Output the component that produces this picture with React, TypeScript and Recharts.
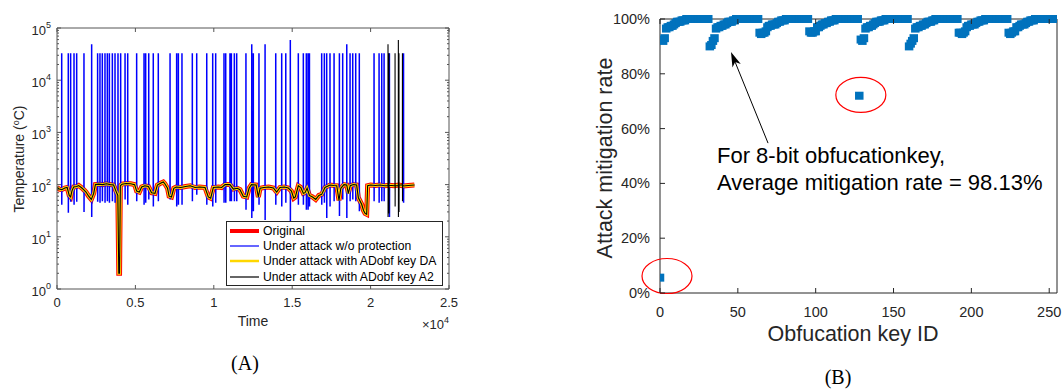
import React from "react";
import {
  LineChart, Line, XAxis, YAxis, Legend,
  ScatterChart, Scatter, ReferenceDot, ReferenceLine,
} from "recharts";

// ---------- panel A: temperature trace ----------
// original trace (time, °C)
const baseTime = [
  0, 150, 300, 500, 650, 780, 870, 950, 1060, 1250, 1380, 1550, 1700, 1850, 2020, 2190, 2340, 2450,
  2660, 2900, 3150, 3400, 3610, 3760, 3880, 3940, 3990, 4040, 4150, 4400, 4700, 4950, 5080, 5250,
  5400, 5600, 5830, 6030, 6250, 6400, 6600, 6780, 6880, 7050, 7150, 7300, 7450, 7600, 7900, 8200,
  8500, 8800, 9100, 9440, 9650, 9800, 9970, 10300, 10500, 10720, 11030, 11250, 11500, 11670, 11880,
  12100, 12250, 12400, 12700, 12840, 12950, 13200, 13500, 13800, 14010, 14220, 14500, 14750, 14950,
  15100, 15200, 15390, 15550, 15710, 15820, 15950, 16100, 16300, 16500, 16700, 16880, 17090, 17410,
  17650, 17840, 17985, 18100, 18300, 18480, 18580, 18700, 18900, 19110, 19220, 19430, 19550, 19650,
  19750, 19810, 20000, 20300, 20600, 20900, 21200, 21500, 21800, 22100, 22400, 22790,
];
const baseTemp = [
  88, 82, 80, 86, 88, 62, 58, 75, 90, 92, 96, 88, 80, 72, 60, 52, 68, 100,
  102, 100, 104, 100, 98, 75, 62, 2, 2, 95, 102, 105, 104, 100, 75, 72,
  90, 95, 92, 70, 68, 98, 106, 112, 104, 85, 60, 58, 85, 90, 88, 92,
  95, 88, 90, 88, 58, 55, 88, 90, 88, 100, 100, 82, 85, 80, 60,
  58, 85, 100, 98, 58, 85, 88, 90, 86, 72, 88, 90, 86, 75,
  55, 58, 95, 88, 68, 70, 85, 62, 58, 52, 62, 65, 88, 98,
  96, 95, 50, 85, 100, 98, 68, 95, 100, 98, 56, 42, 32, 28,
  27, 95, 98, 96, 98, 95, 97, 95, 98, 94, 96, 98,
];
// spikes of the unprotected run: [time, peak, trough]
const blueSpikes: [number, number, number][] = [
  [300, 33000, 41], [720, 33000, 29], [870, 33000, 47], [1085, 33000, 41], [1255, 33000, 47], [1720, 33000, 30],
  [2210, 49000, 24], [2590, 33000, 47], [2740, 33000, 45], [2890, 33000, 48], [3060, 33000, 45], [3210, 33000, 48],
  [3340, 33000, 45], [3530, 33000, 48], [3700, 33000, 45], [3890, 33000, 23], [4060, 33000, 45], [4340, 33000, 52],
  [4510, 33000, 41], [5080, 33000, 48], [5550, 33000, 41], [5655, 33000, 45], [5850, 33000, 52], [6140, 33000, 38],
  [6460, 33000, 48], [7210, 33000, 52], [7630, 33000, 38], [7740, 33000, 41], [7970, 33000, 41],
  [8630, 33000, 48], [8910, 33000, 64], [9550, 33000, 41], [9930, 33000, 38], [10120, 33000, 45], [10650, 33000, 45],
  [10760, 33000, 45], [11030, 33000, 48], [11120, 33000, 48], [11310, 33000, 48], [11460, 33000, 48], [12050, 33000, 33],
  [12420, 49000, 23], [12520, 33000, 31], [12880, 33000, 41], [13270, 49000, 21], [13950, 33000, 41], [14330, 33000, 38],
  [14590, 33000, 45], [14880, 59000, 20], [15390, 33000, 41], [15710, 33000, 41], [15900, 33000, 33], [16010, 33000, 33],
  [16100, 33000, 38], [16880, 33000, 41], [17050, 33000, 45], [17200, 33000, 23], [17410, 33000, 38], [17670, 33000, 48],
  [18010, 33000, 25], [18220, 33000, 52], [18480, 49000, 23], [18690, 33000, 48], [18860, 33000, 52], [19050, 33000, 48],
  [19280, 33000, 31], [20220, 33000, 48], [20540, 33000, 45], [20710, 33000, 48], [20860, 33000, 48], [21200, 33000, 24],
  [22100, 33000, 45],
];
// spikes that get through with key A2
const blackSpikes: [number, number, number][] = [
  [21110, 49000, 24], [21170, 33000, 28], [21560, 33000, 38], [21770, 59000, 24], [21810, 33000, 30], [22030, 33000, 48],
];
const legendNamesA = [
  "Original",
  "Under attack w/o protection",
  "Under attack with ADobf key DA",
  "Under attack with ADobf key A2",
];
const timeTicks = [0, 5000, 10000, 15000, 20000, 25000];
const tempTicks = [1, 10, 100, 1000, 10000, 100000];

// ---------- panel B: mitigation rate per key ----------
const rateBlock0 = [5.6, 92.5, 92, 93, 96.5, 97, 97, 97.5, 97.5, 98, 98.5, 99, 99, 99, 99.5, 99.5, 99.5, 100, 100, 100, 100, 100, 100, 100, 100, 100, 100, 100, 100, 100, 100, 100];
const rateBlock1 = [90, 90.5, 92, 93, 96.5, 97, 97, 97.5, 97.5, 98, 98, 98.5, 99, 99, 99, 99.5, 99.5, 100, 100, 100, 100, 100, 100, 100, 100, 100, 100, 100, 100, 100, 100, 100];
const rateBlock2 = [95, 94.5, 95, 95, 95.5, 97, 97.5, 97.5, 98, 98, 98, 98.5, 99, 99, 99.5, 99.5, 99.5, 100, 100, 100, 100, 100, 100, 100, 100, 100, 100, 100, 100, 100, 100, 100];
const rateBlock3 = [95.5, 95, 95, 95.5, 95.5, 97, 97, 97.5, 98, 98, 98.5, 98.5, 99, 99, 99.5, 99.5, 99.5, 100, 100, 100, 100, 100, 100, 100, 100, 100, 100, 100, 100, 100, 100, 100];
const rateBlock4 = [72, 92.5, 92, 93, 96.5, 97, 97, 97.5, 97.5, 98, 98.5, 99, 99, 99, 99.5, 99.5, 99.5, 100, 100, 100, 100, 100, 100, 100, 100, 100, 100, 100, 100, 100, 100, 100];
const rateBlock5 = [90, 91, 92, 93, 96.5, 97, 97, 97.5, 97.5, 98, 98, 98.5, 99, 99, 99, 99.5, 99.5, 100, 100, 100, 100, 100, 100, 100, 100, 100, 100, 100, 100, 100, 100, 100];
const rateBlock6 = [95, 95, 94.5, 95, 95.5, 97, 97.5, 97.5, 98, 98, 98, 98.5, 99, 99, 99.5, 99.5, 99.5, 100, 100, 100, 100, 100, 100, 100, 100, 100, 100, 100, 100, 100, 100, 100];
const rateBlock7 = [95, 94.5, 95, 95.5, 95.5, 97, 97, 97.5, 98, 98, 98, 98.5, 99, 99, 99.5, 99.5, 99.5, 100, 100, 100, 100, 100, 100, 100, 100, 100, 100, 100, 100, 100, 100, 100];
const keyTicks = [0, 50, 100, 150, 200, 250];
const rateTicks = [0, 20, 40, 60, 80, 100];
const outliers = [{ key: 4.5, rate: 6.2 }, { key: 129, rate: 72.3 }];
const arrowTail = { key: 69.4, rate: 54.7 };
const arrowTip = { key: 45.6, rate: 88 };
const noteAnchor = { key: 36.6, rate: 47.4 };
const noteLines = ["For 8-bit obfucationkey,", "Average mitigation rate = 98.13%"];

// ---------- build series ----------
function withSpikes(spikes: [number, number, number][]) {
  const pts = baseTime.map((t, i) => ({ t, v: baseTemp[i] }));
  spikes.forEach(([t, hi, lo]) => {
    let i = 0;
    while (i < baseTime.length - 1 && baseTime[i + 1] <= t) i++;
    const b = baseTemp[i];
    pts.push({ t: t - 4, v: b }, { t, v: hi }, { t: t + 4, v: lo }, { t: t + 8, v: b });
  });
  return pts.sort((a, b) => a.t - b.t);
}
const origData = baseTime.map((t, i) => ({ t, v: baseTemp[i] }));
const blueData = withSpikes(blueSpikes);
const blackData = withSpikes(blackSpikes);

const minorTemp = tempTicks.slice(0, -1).flatMap((d) => [2, 3, 4, 5, 6, 7, 8, 9].map((m) => m * d));
const allTempTicks = [...tempTicks, ...minorTemp];

const rateB = [...rateBlock0, ...rateBlock1, ...rateBlock2, ...rateBlock3, ...rateBlock4, ...rateBlock5, ...rateBlock6, ...rateBlock7];
const scatterData = rateB.map((rate, key) => ({ key, rate }));

const AX_A = "#555555";
const AX_B = "#262626";
const TXT = "#262626";
const FONT = "'Liberation Sans', Arial, sans-serif";
const legendWidths = [4, 1.2, 2.5, 1.2];

// ---------- ticks (all pointing inward, like MATLAB) ----------
const leftTickA = (p: any) => {
  const v = p.payload.value;
  const major = tempTicks.includes(v);
  return (
    <g>
      <line x1={p.x} x2={p.x + (major ? 4 : 2)} y1={p.y} y2={p.y} stroke={AX_A} />
      {major && (
        <text x={p.x - 6} y={p.y + 7} textAnchor="end" fontSize={13} fill={TXT}>
          10<tspan dy={-7} fontSize={9}>{Math.round(Math.log10(v))}</tspan>
        </text>
      )}
    </g>
  );
};
const rightTickA = (p: any) => {
  const major = tempTicks.includes(p.payload.value);
  return <line x1={p.x} x2={p.x - (major ? 4 : 2)} y1={p.y} y2={p.y} stroke={AX_A} />;
};
const bottomTickA = (p: any) => (
  <g>
    <line x1={p.x} x2={p.x} y1={p.y} y2={p.y - 4} stroke={AX_A} />
    <text x={p.x} y={p.y + 18} textAnchor="middle" fontSize={13} fill={TXT}>{p.payload.value / 10000}</text>
  </g>
);
const topTickA = (p: any) => <line x1={p.x} x2={p.x} y1={p.y} y2={p.y + 4} stroke={AX_A} />;

const leftTickB = (p: any) => (
  <g>
    <line x1={p.x} x2={p.x + 5} y1={p.y} y2={p.y} stroke={AX_B} />
    <text x={p.x - 10} y={p.y + 5} textAnchor="end" fontSize={14.5} fill={TXT}>{`${p.payload.value}%`}</text>
  </g>
);
const rightTickB = (p: any) => <line x1={p.x} x2={p.x - 5} y1={p.y} y2={p.y} stroke={AX_B} />;
const bottomTickB = (p: any) => (
  <g>
    <line x1={p.x} x2={p.x} y1={p.y} y2={p.y - 5} stroke={AX_B} />
    <text x={p.x} y={p.y + 24} textAnchor="middle" fontSize={14.5} fill={TXT}>{p.payload.value}</text>
  </g>
);
const topTickB = (p: any) => <line x1={p.x} x2={p.x} y1={p.y} y2={p.y + 5} stroke={AX_B} />;

const LegendA = (props: any) => {
  const items = [...(props.payload || [])].sort(
    (a: any, b: any) => legendNamesA.indexOf(a.value) - legendNamesA.indexOf(b.value)
  );
  return (
    <div style={{ border: "1px solid #262626", background: "#fff", padding: "1px 4px 1px 3px", boxSizing: "border-box", width: 217 }}>
      {items.map((e: any) => {
        const i = legendNamesA.indexOf(e.value);
        return (
          <div key={e.value} style={{ display: "flex", alignItems: "center", height: 15.3 }}>
            <svg width={29} height={6} style={{ flex: "none" }}>
              <line x1={0} x2={29} y1={3} y2={3} stroke={e.color} strokeWidth={legendWidths[i]} />
            </svg>
            <span style={{ marginLeft: 4, fontSize: 12.2, color: "#000", fontFamily: FONT, whiteSpace: "nowrap" }}>{e.value}</span>
          </div>
        );
      })}
    </div>
  );
};

const SquareMark = (p: any) => <rect x={p.cx - 4.25} y={p.cy - 4} width={8.5} height={8} fill="#0072BD" />;
const OutlierRing = (p: any) => <ellipse cx={p.cx} cy={p.cy} rx={25} ry={17.5} fill="none" stroke="#ff0000" strokeWidth={1.2} />;
const ArrowShape = (p: any) => {
  const { x1, y1, x2, y2 } = p;
  const dx = x2 - x1, dy = y2 - y1;
  const L = Math.hypot(dx, dy) || 1;
  const ux = dx / L, uy = dy / L;
  const bx = x2 - ux * 15, by = y2 - uy * 15;
  const nx = x2 - ux * 11, ny = y2 - uy * 11;
  return (
    <g>
      <line x1={x1} y1={y1} x2={nx} y2={ny} stroke="#000" strokeWidth={1} />
      <polygon points={`${x2},${y2} ${bx - uy * 4.5},${by + ux * 4.5} ${nx},${ny} ${bx + uy * 4.5},${by - ux * 4.5}`} fill="#000" />
    </g>
  );
};
const NoteText = (p: any) => (
  <text x={p.cx} y={p.cy} fontSize={22} fill="#000" fontFamily={FONT}>
    {noteLines.map((s, i) => (
      <tspan key={i} x={p.cx} dy={i ? 27 : 0}>{s}</tspan>
    ))}
  </text>
);

export default function App() {
  return (
    <div style={{ position: "absolute", left: 0, top: 0, width: 1062, height: 390, background: "#fff", overflow: "hidden", fontFamily: FONT }}>
      <div style={{ position: "absolute", left: 0, top: 0 }}>
        <LineChart width={470} height={340} margin={{ top: 18, right: 11, bottom: 21, left: 0 }}>
          <XAxis dataKey="t" type="number" domain={[0, 25000]} ticks={timeTicks} interval={0} allowDataOverflow
            height={30} tickLine={false} tickSize={0} tickMargin={0} axisLine={{ stroke: AX_A }} tick={bottomTickA} />
          <XAxis xAxisId="top" orientation="top" dataKey="t" type="number" domain={[0, 25000]} ticks={timeTicks} interval={0} allowDataOverflow
            height={10} tickLine={false} tickSize={0} tickMargin={0} axisLine={{ stroke: AX_A }} tick={topTickA} />
          <YAxis type="number" scale="log" domain={[1, 100000]} ticks={allTempTicks} interval={0} allowDataOverflow
            width={57} tickLine={false} tickSize={0} tickMargin={0} axisLine={{ stroke: AX_A }} tick={leftTickA} />
          <YAxis yAxisId="right" orientation="right" type="number" scale="log" domain={[1, 100000]} ticks={allTempTicks} interval={0} allowDataOverflow
            width={10} tickLine={false} tickSize={0} tickMargin={0} axisLine={{ stroke: AX_A }} tick={rightTickA} />
          <Legend layout="vertical" align="center" verticalAlign="middle" width={217}
            wrapperStyle={{ left: 226, top: 221, width: 217 }} content={LegendA} />
          <Line data={origData} dataKey="v" name={legendNamesA[0]} stroke="#ff0000" strokeWidth={5} dot={false} isAnimationActive={false} />
          <Line data={blueData} dataKey="v" name={legendNamesA[1]} stroke="#0000ff" strokeWidth={1.5} dot={false} isAnimationActive={false} />
          <Line data={origData} dataKey="v" name={legendNamesA[2]} stroke="#ffd700" strokeWidth={3} dot={false} isAnimationActive={false} />
          <Line data={blackData} dataKey="v" name={legendNamesA[3]} stroke="#000000" strokeWidth={1.1} dot={false} isAnimationActive={false} />
        </LineChart>
      </div>

      <div style={{ position: "absolute", left: 540, top: 0 }}>
        <ScatterChart width={522} height={350} margin={{ top: 9, right: 0, bottom: 7, left: 0 }}>
          <XAxis dataKey="key" type="number" domain={[0, 255]} ticks={keyTicks} interval={0} allowDataOverflow
            height={50} tickLine={false} tickSize={0} tickMargin={0} axisLine={{ stroke: AX_B }} tick={bottomTickB} />
          <XAxis xAxisId="top" orientation="top" dataKey="key" type="number" domain={[0, 255]} ticks={keyTicks} interval={0} allowDataOverflow
            height={10} tickLine={false} tickSize={0} tickMargin={0} axisLine={{ stroke: AX_B }} tick={topTickB} />
          <YAxis dataKey="rate" type="number" domain={[0, 100]} ticks={rateTicks} interval={0}
            width={120} tickLine={false} tickSize={0} tickMargin={0} axisLine={{ stroke: AX_B }} tick={leftTickB} />
          <YAxis yAxisId="right" orientation="right" dataKey="rate" type="number" domain={[0, 100]} ticks={rateTicks} interval={0}
            width={5} tickLine={false} tickSize={0} tickMargin={0} axisLine={{ stroke: AX_B }} tick={rightTickB} />
          <Scatter data={scatterData} shape={SquareMark} isAnimationActive={false} />
          {outliers.map((o, i) => (
            <ReferenceDot key={i} x={o.key} y={o.rate} shape={OutlierRing} ifOverflow="visible" />
          ))}
          <ReferenceLine segment={[{ x: arrowTail.key, y: arrowTail.rate }, { x: arrowTip.key, y: arrowTip.rate }]}
            shape={ArrowShape} ifOverflow="visible" />
          <ReferenceDot x={noteAnchor.key} y={noteAnchor.rate} shape={NoteText} ifOverflow="visible" />
        </ScatterChart>
      </div>

      <svg width={1062} height={390} style={{ position: "absolute", left: 0, top: 0, pointerEvents: "none" }}>
        <text transform="translate(23.5,159) rotate(-90)" textAnchor="middle" fontSize={14} fill={TXT}>
          Temperature (<tspan dy={-5} fontSize={9}>o</tspan><tspan dy={5}>C)</tspan>
        </text>
        <text x={253} y={326} textAnchor="middle" fontSize={14} fill={TXT}>Time</text>
        <text x={449} y={329} textAnchor="end" fontSize={13} fill={TXT}>
          ×10<tspan dy={-6} fontSize={9}>4</tspan>
        </text>
        <text x={245} y={370} textAnchor="middle" fontSize={20} fill="#000" fontFamily="'Liberation Serif', serif">(A)</text>
        <text transform="translate(612,158) rotate(-90)" textAnchor="middle" fontSize={21.5} fill={TXT}>Attack mitigation rate</text>
        <text x={853} y={341} textAnchor="middle" fontSize={21.5} fill={TXT}>Obfucation key ID</text>
        <text x={838} y={384} textAnchor="middle" fontSize={20} fill="#000" fontFamily="'Liberation Serif', serif">(B)</text>
      </svg>
    </div>
  );
}
